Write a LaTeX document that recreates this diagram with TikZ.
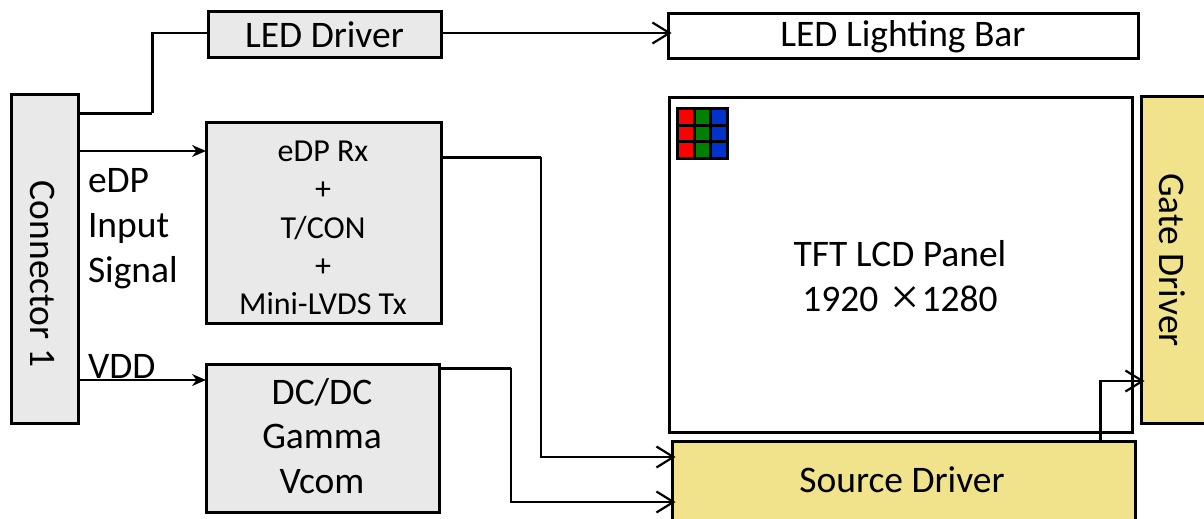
\documentclass[tikz,border=0pt]{standalone}
\usepackage{fontspec}
\setmainfont{Carlito}
\usetikzlibrary{arrows.meta,calc}
\definecolor{boxgray}{HTML}{E9E9E9}
\definecolor{boxyellow}{HTML}{F0E38C}
\definecolor{cellblue}{HTML}{0033CC}
\definecolor{cellgreen}{HTML}{008000}
\tikzset{
  every node/.style={inner sep=0pt,outer sep=0pt},
  blockbox/.style={draw=black,line width=3pt,anchor=north west,align=center},
  graybox/.style={blockbox,fill=boxgray},
  yellowbox/.style={blockbox,fill=boxyellow},
  whitebox/.style={blockbox,fill=white},
  big/.style={font=\fontsize{37.5}{44.5}\selectfont},
  small/.style={font=\fontsize{32}{38.2}\selectfont},
  label/.style={big,anchor=west},
  thickline/.style={line width=3pt,line cap=butt},
  thinline/.style={line width=1.8pt,line cap=butt},
  solidtip/.style={thinline,-{Stealth[length=14pt,width=12pt]}},
  opentip/.style={thinline,shorten >=-3.5pt,-{Straight Barb[length=17pt,width=21pt,line width=2.2pt]}},
}
\begin{document}
\begin{tikzpicture}[x=1pt,y=-1pt]
\useasboundingbox (0,0) rectangle (1204,519);
\clip (0,0) rectangle (1204,519);
% blocks
\node[graybox,minimum width=67pt,minimum height=329pt] (conn) at (11,94) {};
\node[rotate=-90,big] (connt) at (43,274) {Connector 1};
\node[graybox,minimum width=233pt,minimum height=46pt,big] (led) at (208,12) {LED Driver};
\node[whitebox,minimum width=470pt,minimum height=45pt,big] (bar) at (668,14) {LED Lighting Bar};
\node[graybox,minimum width=235pt,minimum height=201pt] (edp) at (206,122) {};
\node[small,align=center] (edpt) at (323,228) {eDP Rx\\+\\T/CON\\+\\Mini-LVDS Tx};
\node[graybox,minimum width=233pt,minimum height=148pt] (dc) at (206,364) {};
\node[big,align=center] (dct) at (322,436) {DC/DC\\Gamma\\Vcom};
\node[whitebox,minimum width=463pt,minimum height=335pt] (panel) at (669,97) {};
\node[big,align=center] (panelt) at (900,276) {TFT LCD Panel\\1920\hspace{12pt}\smash{\raisebox{-3pt}{\fontspec{Liberation Serif}\fontsize{52}{52}\selectfont ×}}\hspace{2pt}1280};
\node[yellowbox,minimum width=80pt,minimum height=327pt] (gate) at (1141,96) {};
\node[rotate=-90,big] (gatet) at (1172,260) {Gate Driver};
\node[yellowbox,minimum width=463pt,minimum height=110pt] (src) at (672,441) {};
\node[big] (srct) at (902,480) {Source Driver};
% subpixel grid
\foreach \r in {0,1,2}{
  \foreach \c/\col in {0/red,1/cellgreen,2/cellblue}{
    \fill[\col,draw=black,line width=3pt] ({677.5+\c*16.5},{108.5+\r*16.5}) rectangle ++(16.5,16.5);
  }
}
% labels
\node[label] (l1) at (88,181) {eDP};
\node[label] (l2) at (88,228) {Input};
\node[label] (l3) at (88,273) {Signal};
\node[label] (l4) at (88,366) {VDD};
% connector helper points
\coordinate (c1) at (152,113);
\coordinate (c2) at (152,33);
\coordinate (e1) at (541,157);
\coordinate (e2) at (541,457);
\coordinate (d1) at (511,368);
\coordinate (d2) at (511,502);
\coordinate (g1) at (1100,381);
% connectors
\draw[thickline] (conn.east |- c1) -- (c1);
\draw[thickline] (c1) -- (c2);
\draw[thinline] ($(c2)+(-1.5,0)$) -- (led.west |- c2);
\draw[opentip] (led.east |- c2) -- (bar.west |- c2);
\draw[solidtip] (conn.east |- 0,151) -- (edp.west |- 0,151);
\draw[solidtip] (conn.east |- 0,380) -- (dc.west |- 0,380);
\draw[thickline] (edp.east |- e1) -- (e1);
\draw[line width=2pt] (e1) -- (e2);
\draw[opentip] ($(e2)+(-1,0)$) -- (src.west |- e2);
\draw[thickline] (dc.east |- d1) -- (d1);
\draw[line width=2pt] (d1) -- (d2);
\draw[opentip] ($(d2)+(-1,0)$) -- (src.west |- d2);
\draw[thickline] (src.north -| g1) -- (g1);
\draw[opentip] ($(g1)+(-1.5,0)$) -- (gate.west |- g1);
\end{tikzpicture}
\end{document}
